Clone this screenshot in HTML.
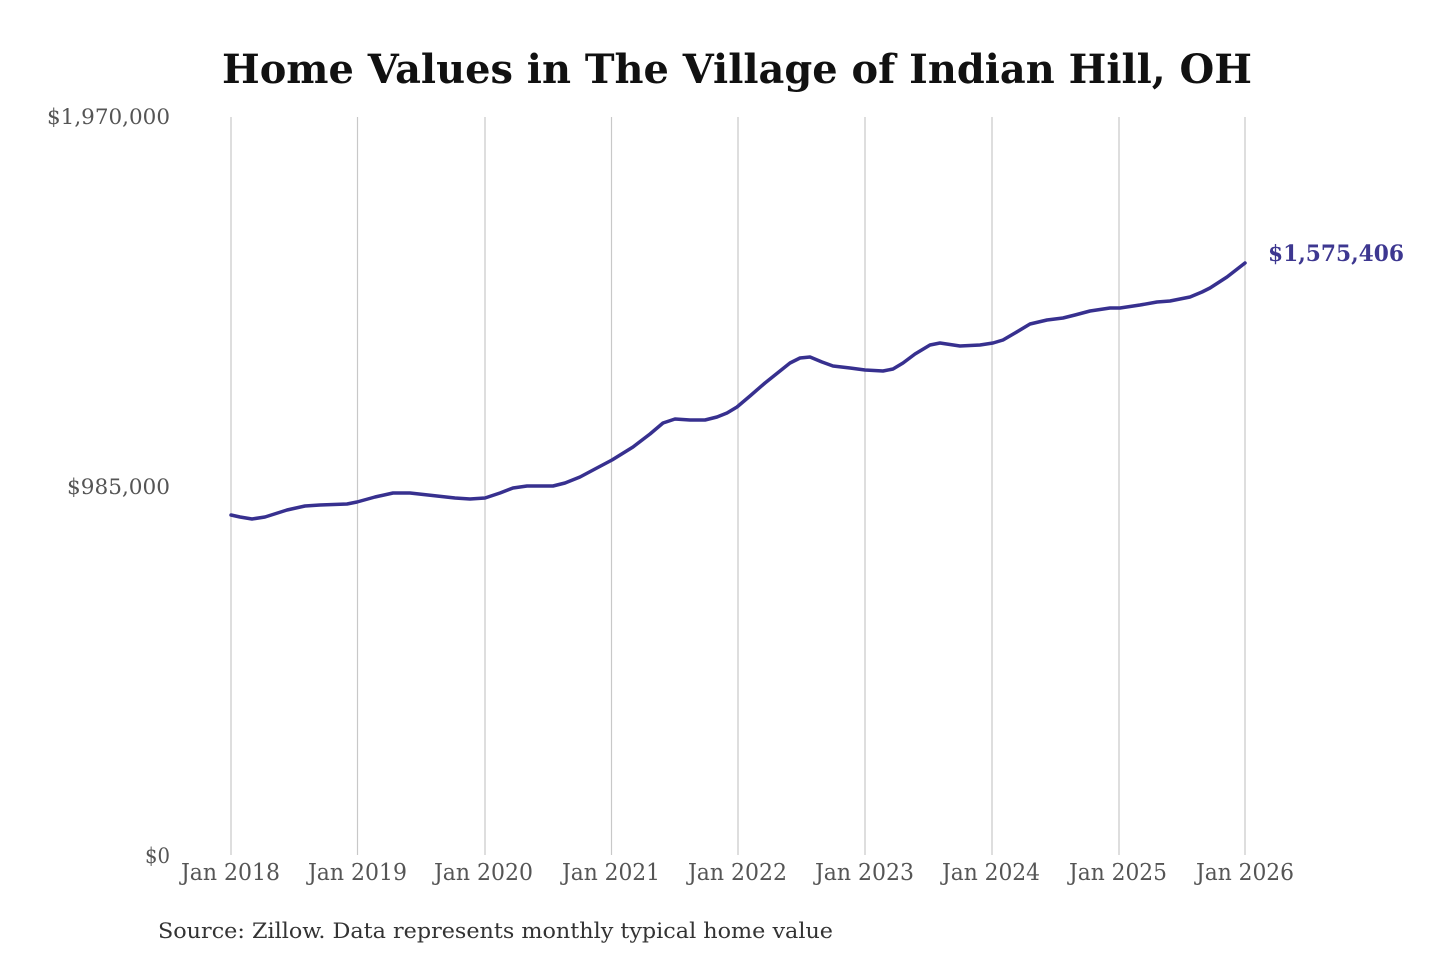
<!DOCTYPE html>
<html><head><meta charset="utf-8"><style>
html,body{margin:0;padding:0;background:#fff;}
svg{display:block;}
text{font-family:"DejaVu Serif Condensed","DejaVu Serif","Liberation Serif",serif;}
</style></head><body>
<svg width="1440" height="960" viewBox="0 0 1440 960" xmlns="http://www.w3.org/2000/svg">
<rect width="1440" height="960" fill="#fff"/>
<text x="222" y="83" font-size="40" font-weight="bold" fill="#111" textLength="1030" lengthAdjust="spacingAndGlyphs" style="font-family:'DejaVu Serif','Liberation Serif',serif">Home Values in The Village of Indian Hill, OH</text>
<g stroke="#c8c8c8" stroke-width="1.2">
<line x1="231" y1="117" x2="231" y2="855"/>
<line x1="357.5" y1="117" x2="357.5" y2="855"/>
<line x1="485" y1="117" x2="485" y2="855"/>
<line x1="611.5" y1="117" x2="611.5" y2="855"/>
<line x1="738" y1="117" x2="738" y2="855"/>
<line x1="865" y1="117" x2="865" y2="855"/>
<line x1="992" y1="117" x2="992" y2="855"/>
<line x1="1119" y1="117" x2="1119" y2="855"/>
<line x1="1245" y1="117" x2="1245" y2="855"/>
</g>
<g fill="#555" font-size="21">
<text x="47" y="124" textLength="123" lengthAdjust="spacingAndGlyphs">$1,970,000</text>
<text x="67" y="494" textLength="103" lengthAdjust="spacingAndGlyphs">$985,000</text>
<text x="145" y="863" textLength="25" lengthAdjust="spacingAndGlyphs">$0</text>
</g>
<g fill="#555" font-size="23">
<text x="181" y="880" textLength="99" lengthAdjust="spacingAndGlyphs">Jan 2018</text>
<text x="308" y="880" textLength="99" lengthAdjust="spacingAndGlyphs">Jan 2019</text>
<text x="434" y="880" textLength="99" lengthAdjust="spacingAndGlyphs">Jan 2020</text>
<text x="562" y="880" textLength="98" lengthAdjust="spacingAndGlyphs">Jan 2021</text>
<text x="688" y="880" textLength="99" lengthAdjust="spacingAndGlyphs">Jan 2022</text>
<text x="815" y="880" textLength="99" lengthAdjust="spacingAndGlyphs">Jan 2023</text>
<text x="942" y="880" textLength="98" lengthAdjust="spacingAndGlyphs">Jan 2024</text>
<text x="1069" y="880" textLength="98" lengthAdjust="spacingAndGlyphs">Jan 2025</text>
<text x="1196" y="880" textLength="98" lengthAdjust="spacingAndGlyphs">Jan 2026</text>
</g>
<polyline fill="none" stroke="#37308f" stroke-width="3.5" stroke-linejoin="round" stroke-linecap="round" points="231,515 240,517 252,519 265,517 287,510 305,506 320,505 347,504 357,502 375,497 393,493 410,493 437,496 455,498 470,499 485,498 500,493 513,488 527,486 553,486 565,483 580,477 595,469 612,460 633,447 650,434 663,423 675,419 690,420 705,420 717,417 727,413 737,407 750,396 765,383 780,371 790,363 800,358 810,357 822,362 833,366 850,368 865,370 883,371 893,369 903,363 915,354 930,345 940,343 960,346 980,345 993,343 1003,340 1015,333 1030,324 1047,320 1063,318 1075,315 1090,311 1110,308 1120,308 1140,305 1157,302 1170,301 1190,297 1202,292 1210,288 1227,277 1245,263"/>
<text x="1268" y="261" font-size="22" font-weight="bold" fill="#3d3790" textLength="136" lengthAdjust="spacingAndGlyphs">$1,575,406</text>
<text x="158" y="938" font-size="21" fill="#333" textLength="675" lengthAdjust="spacingAndGlyphs">Source: Zillow. Data represents monthly typical home value</text>
</svg>
</body></html>
